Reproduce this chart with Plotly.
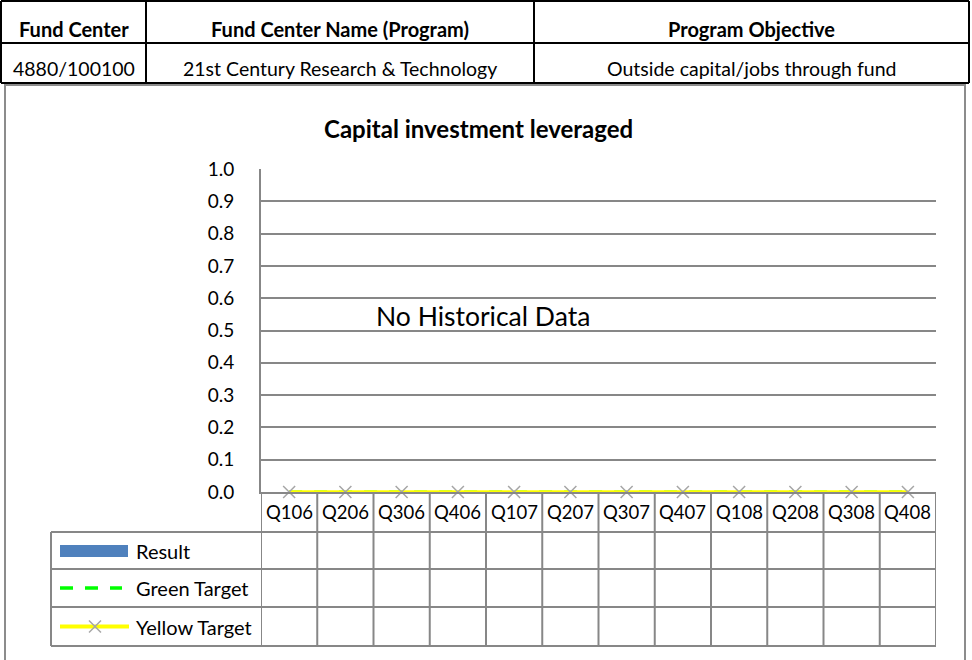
import plotly.graph_objects as go

# ---------------- data ----------------
categories = ["Q106", "Q206", "Q306", "Q406", "Q107", "Q207",
              "Q307", "Q407", "Q108", "Q208", "Q308", "Q408"]
result_values = [None] * 12
green_target = [0, 0, 0, 0, 0, 0, 0, 0, 0, 0, 0, 0]
yellow_target = [0, 0, 0, 0, 0, 0, 0, 0, 0, 0, 0, 0]
y_ticks = [0.0, 0.1, 0.2, 0.3, 0.4, 0.5, 0.6, 0.7, 0.8, 0.9, 1.0]
header_titles = ["Fund Center", "Fund Center Name (Program)", "Program Objective"]
header_values = ["4880/100100", "21st Century Research & Technology",
                 "Outside capital/jobs through fund"]
series_names = ["Result", "Green Target", "Yellow Target"]
chart_title = "Capital investment leveraged"
no_data_text = "No Historical Data"

# ---------------- layout helpers ----------------
W, H = 972, 660
FONT = "Lato, 'Open Sans', sans-serif"
GRID = "#878787"


def px(x):
    return x / W


def py(y):
    return 1 - y / H


def text(x, y, s, size, xanchor="center", xref="paper"):
    return dict(xref=xref, yref="paper", x=x, y=py(y), text=s, showarrow=False,
                xanchor=xanchor, yanchor="middle", borderpad=0,
                font=dict(family=FONT, size=size, color="black"))


plot_left, plot_right = 261, 936
plot_top, plot_bottom = 169, 492
row_edges = [492, 532, 569, 607, 646]
legend_left = 51

fig = go.Figure()

fig.add_trace(go.Bar(x=categories, y=result_values, name=series_names[0],
                     marker_color="#4F81BD", showlegend=False))
fig.add_trace(go.Scatter(x=categories, y=green_target, name=series_names[1],
                         mode="lines", line=dict(color="#00FF00", width=3, dash="13px,12px"),
                         showlegend=False, cliponaxis=False))
fig.add_trace(go.Scatter(x=categories, y=yellow_target, name=series_names[2],
                         mode="lines+markers",
                         line=dict(color="#FFFF00", width=3.5),
                         marker=dict(symbol="x-thin", size=12,
                                     line=dict(color="#A6A6A6", width=1.5)),
                         showlegend=False, cliponaxis=False))

shapes = []
annotations = []

# header table
hx = [1, 146, 534, 969]
hy = [1, 43, 83]
for y in hy:
    shapes.append(dict(type="line", xref="paper", yref="paper",
                       x0=px(hx[0]), x1=px(hx[-1]), y0=py(y), y1=py(y),
                       line=dict(color="black", width=2)))
for x in hx:
    shapes.append(dict(type="line", xref="paper", yref="paper",
                       x0=px(x), x1=px(x), y0=py(hy[0]), y1=py(hy[-1]),
                       line=dict(color="black", width=2)))
for i in range(3):
    cx = (hx[i] + hx[i + 1]) / 2
    annotations.append(text(px(cx), 29, "<b>" + header_titles[i] + "</b>", 20))
    annotations.append(text(px(cx), 69, header_values[i], 19.5))

# chart box border
shapes.append(dict(type="rect", xref="paper", yref="paper",
                   x0=px(5), x1=px(965), y0=py(85), y1=py(662),
                   line=dict(color="#8C8C8C", width=2), fillcolor="rgba(0,0,0,0)"))

# title and no-data text
annotations.append(text(px(478), 128, "<b>" + chart_title + "</b>", 24))
annotations.append(text(px(483), 316, no_data_text, 26.5))

# data table: horizontal lines
for y in row_edges[1:]:
    shapes.append(dict(type="line", xref="paper", yref="paper",
                       x0=px(legend_left), x1=px(plot_right), y0=py(y), y1=py(y),
                       line=dict(color=GRID, width=2)))
# vertical lines by category boundaries
for k in range(len(categories) + 1):
    shapes.append(dict(type="line", xref="x", yref="paper",
                       x0=k - 0.5, x1=k - 0.5,
                       y0=py(row_edges[0]), y1=py(row_edges[-1]),
                       line=dict(color=GRID, width=2)))
# legend column left edge
shapes.append(dict(type="line", xref="paper", yref="paper",
                   x0=px(legend_left), x1=px(legend_left),
                   y0=py(row_edges[1]), y1=py(row_edges[-1]),
                   line=dict(color=GRID, width=2)))

# category labels
for c in categories:
    annotations.append(text(c, 512, c, 18.5, xref="x"))

# legend keys
row_mid = [(row_edges[i] + row_edges[i + 1]) / 2 for i in range(1, 4)]
shapes.append(dict(type="rect", xref="paper", yref="paper",
                   x0=px(60), x1=px(128), y0=py(557), y1=py(545),
                   line=dict(width=0), fillcolor="#4F81BD"))
shapes.append(dict(type="line", xref="paper", yref="paper",
                   x0=px(60), x1=px(122), y0=py(row_mid[1]), y1=py(row_mid[1]),
                   line=dict(color="#00FF00", width=3.5, dash="13px,12px")))
shapes.append(dict(type="line", xref="paper", yref="paper",
                   x0=px(60), x1=px(129), y0=py(row_mid[2]), y1=py(row_mid[2]),
                   line=dict(color="#FFFF00", width=4)))
for dx1, dx2, dy1, dy2 in [(-6, 6, -6, 6), (-6, 6, 6, -6)]:
    shapes.append(dict(type="line", xref="paper", yref="paper",
                       x0=px(95 + dx1), x1=px(95 + dx2),
                       y0=py(row_mid[2] + dy1), y1=py(row_mid[2] + dy2),
                       line=dict(color="#A6A6A6", width=1.5)))
for name, ym in zip(series_names, row_mid):
    annotations.append(text(px(135), ym, name, 20, xanchor="left"))

fig.update_layout(
    width=W, height=H, autosize=False,
    margin=dict(l=0, r=0, t=0, b=0, pad=0, autoexpand=False),
    paper_bgcolor="white", plot_bgcolor="white",
    showlegend=False,
    shapes=shapes, annotations=annotations,
    xaxis=dict(domain=[px(plot_left), px(plot_right)], range=[-0.5, 11.5],
               type="category", showticklabels=False, ticks="",
               showgrid=False, zeroline=False, showline=True, automargin=False,
               linecolor=GRID, linewidth=2, fixedrange=True),
    yaxis=dict(domain=[py(plot_bottom), py(plot_top)], range=[0, 1],
               tickvals=y_ticks, tickformat=".1f", automargin=False,
               showgrid=True, gridcolor=GRID, gridwidth=1.5,
               zeroline=False, showline=True, linecolor=GRID, linewidth=2,
               ticks="outside", ticklen=0, ticklabelstandoff=21,
               tickfont=dict(family=FONT, size=19, color="black"),
               fixedrange=True),
)

fig.write_html("out.html", config={"displayModeBar": False},
               post_script="document.body.style.margin='0';document.body.style.overflow='hidden';")
